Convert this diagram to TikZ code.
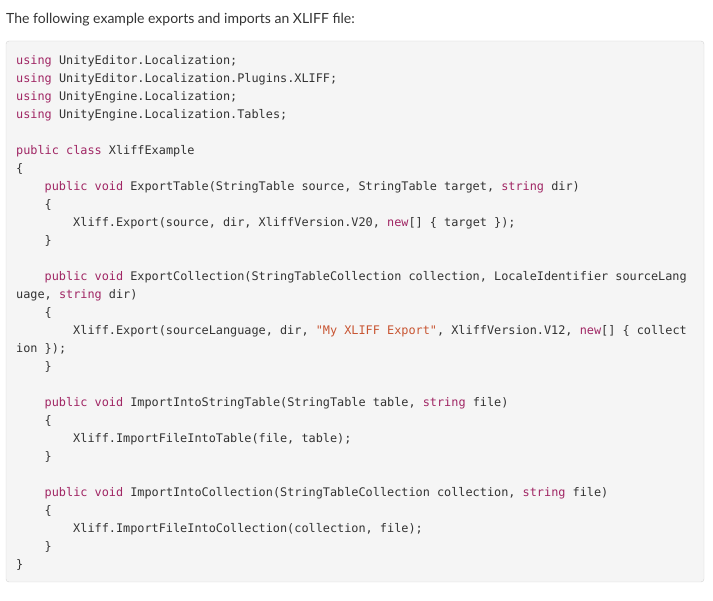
\documentclass[tikz,border=0pt]{standalone}
\usepackage{fontspec}
\setmainfont{Lato}
\setmonofont{DejaVu Sans Mono}
\definecolor{kwcol}{RGB}{160,38,100}
\definecolor{strcol}{RGB}{200,85,50}
\definecolor{codetxt}{RGB}{51,51,51}
\definecolor{boxfill}{RGB}{245,245,245}
\definecolor{boxline}{RGB}{212,212,212}
\newcommand{\kw}[1]{\textcolor{kwcol}{#1}}
\newcommand{\strlit}[1]{\textcolor{strcol}{#1}}

\begin{document}
\begin{tikzpicture}[x=1pt,y=-1pt,
  codeline/.style={anchor=base west, inner sep=0pt, text=codetxt, font=\fontsize{11.85}{14}\ttfamily}]
\useasboundingbox (0,0) rectangle (713,601);
\node[anchor=base west, inner sep=0pt, text=codetxt, font=\fontsize{14}{17}\selectfont] (title) at (6,24) {The following example exports and imports an XLIFF file:};
\draw[boxline, fill=boxfill, rounded corners=3pt] (6,41) rectangle (704,582);
% one node per printed line: number / indent / text
\foreach \ln/\ind/\txt in {
  1/0/{\kw{using} UnityEditor.Localization;},
  2/0/{\kw{using} UnityEditor.Localization.Plugins.XLIFF;},
  3/0/{\kw{using} UnityEngine.Localization;},
  4/0/{\kw{using} UnityEngine.Localization.Tables;},
  6/0/{\kw{public} \kw{class} XliffExample},
  7/0/{\{},
  8/4/{\kw{public} \kw{void} ExportTable(StringTable source, StringTable target, \kw{string} dir)},
  9/4/{\{},
  10/8/{Xliff.Export(source, dir, XliffVersion.V20, \kw{new}[] \{ target \});},
  11/4/{\}},
  13/4/{\kw{public} \kw{void} ExportCollection(StringTableCollection collection, LocaleIdentifier sourceLang},
  14/0/{uage, \kw{string} dir)},
  15/4/{\{},
  16/8/{Xliff.Export(sourceLanguage, dir, \strlit{"My XLIFF Export"}, XliffVersion.V12, \kw{new}[] \{ collect},
  17/0/{ion \});},
  18/4/{\}},
  20/4/{\kw{public} \kw{void} ImportIntoStringTable(StringTable table, \kw{string} file)},
  21/4/{\{},
  22/8/{Xliff.ImportFileIntoTable(file, table);},
  23/4/{\}},
  25/4/{\kw{public} \kw{void} ImportIntoCollection(StringTableCollection collection, \kw{string} file)},
  26/4/{\{},
  27/8/{Xliff.ImportFileIntoCollection(collection, file);},
  28/4/{\}},
  29/0/{\}}}
  \node[codeline] (l\ln) at ({16+7.13*\ind},{65+18*(\ln-1)}) {\txt};
\end{tikzpicture}
\end{document}
